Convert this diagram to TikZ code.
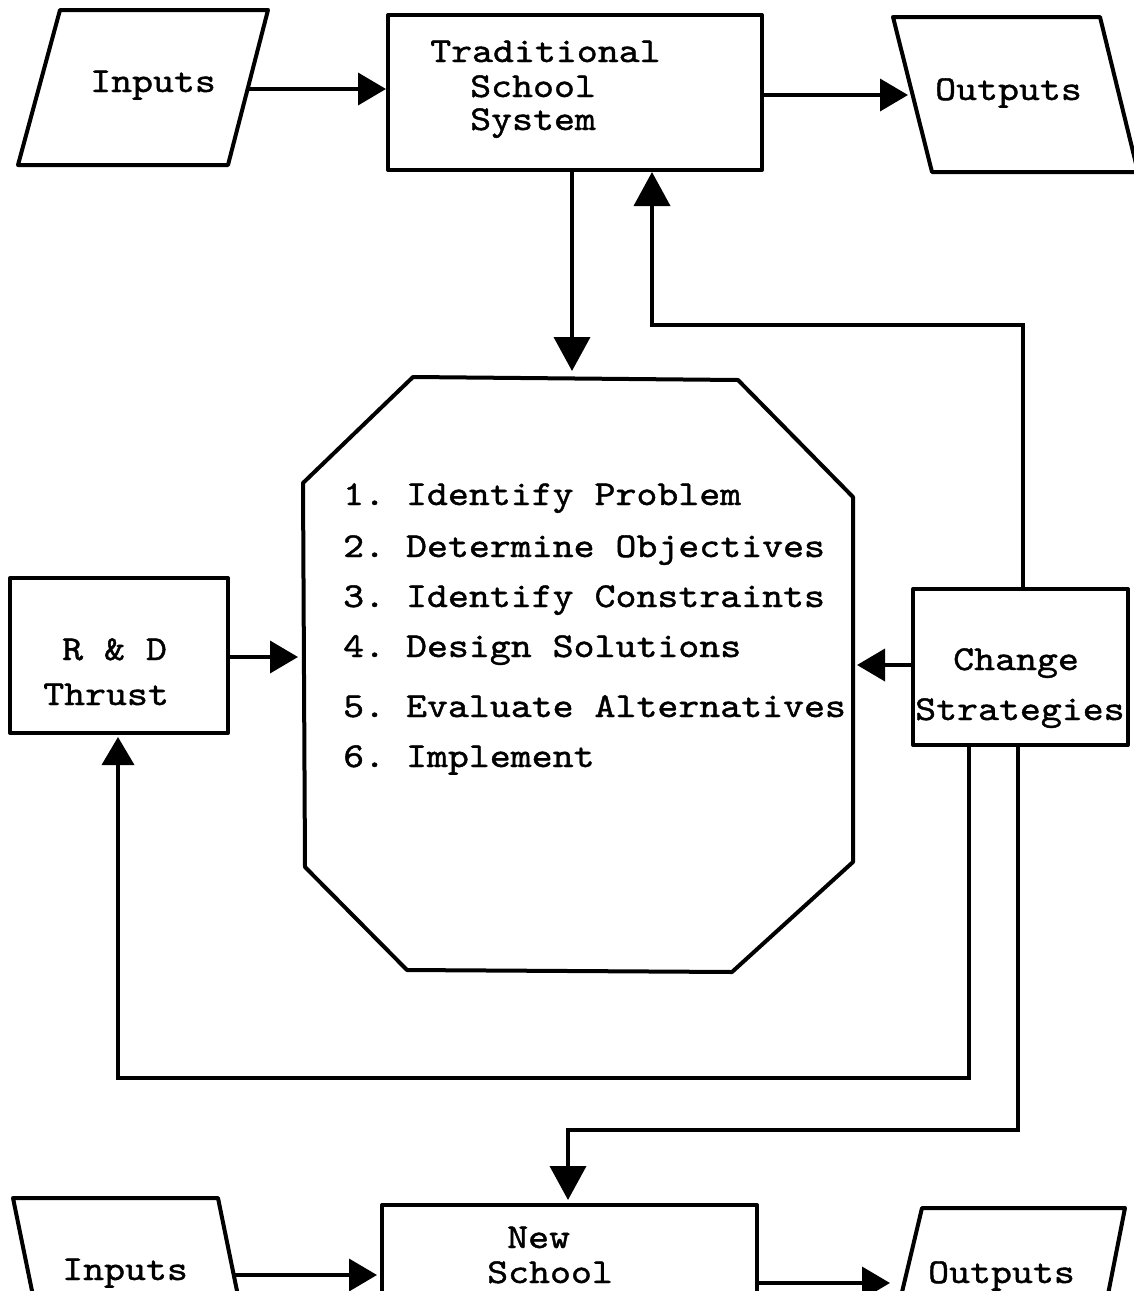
\documentclass[tikz,border=0pt]{standalone}
\usepackage{fontspec}
\usetikzlibrary{arrows.meta}
\newfontfamily\tw{lmmono10-regular.otf}[FakeStretch=1.14,FakeBold=1.2]
\tikzset{
  shp/.style={draw, line width=4pt, line join=round},
  conn/.style={draw, line width=3.8pt},
  arr/.style={conn, -{Triangle[length=28pt,width=32pt]}},
  bigarr/.style={conn, -{Triangle[length=34pt,width=36pt]}},
  txt/.style={font=\tw\fontsize{35}{35}\selectfont\frenchspacing, inner sep=0pt, anchor=base west},
}
\begin{document}
\begin{tikzpicture}[x=1pt,y=-1pt]
\useasboundingbox (0,0) rectangle (1134,1291);
\clip (0,0) rectangle (1134,1291);
% ---------- top Inputs
\coordinate (iA1) at (60,10);
\coordinate (iA2) at (268,10);
\coordinate (iA3) at (228,165);
\coordinate (iA4) at (18,165);
\draw[shp] (iA1) -- (iA2) -- (iA3) -- (iA4) -- cycle;
\node[txt] (inA) at (90,92) {Inputs};
% ---------- Traditional School System
\coordinate (tssNW) at (388,15);
\coordinate (tssSE) at (762,170);
\draw[shp] (tssNW) rectangle (tssSE);
\node[txt] (tss1) at (430,62) {Traditional};
\node[txt] (tss2) at (470,97) {School};
\node[txt] (tss3) at (470,130) {System};
% ---------- top Outputs
\coordinate (oA1) at (893,17);
\coordinate (oA2) at (1100,17);
\coordinate (oA3) at (1138,172);
\coordinate (oA4) at (932,172);
\draw[shp] (oA1) -- (oA2) -- (oA3) -- (oA4) -- cycle;
\node[txt] (outA) at (935,100) {Outputs};
% ---------- octagon
\coordinate (o1) at (413,377);
\coordinate (o2) at (738,380);
\coordinate (o3) at (853,497);
\coordinate (o4) at (853,862);
\coordinate (o5) at (732,972);
\coordinate (o6) at (407,970);
\coordinate (o7) at (305,867);
\coordinate (o8) at (303,483);
\draw[shp] (o1) -- (o2) -- (o3) -- (o4) -- (o5) -- (o6) -- (o7) -- (o8) -- cycle;
\node[txt] (l1) at (343,505) {1. Identify Problem};
\node[txt] (l2) at (343,557) {2. Determine Objectives};
\node[txt] (l3) at (343,607) {3. Identify Constraints};
\node[txt] (l4) at (343,657) {4. Design Solutions};
\node[txt] (l5) at (343,717) {5. Evaluate Alternatives};
\node[txt] (l6) at (343,767) {6. Implement};
% ---------- R & D Thrust
\coordinate (rdNW) at (10,578);
\coordinate (rdSE) at (228,733);
\draw[shp] (rdNW) rectangle (rdSE);
\node[txt] (rd1) at (62,660) {R \& D};
\node[txt] (rd2) at (43,705) {Thrust};
% ---------- Change Strategies
\coordinate (csNW) at (913,589);
\coordinate (csSE) at (1128,745);
\draw[shp] (csNW) rectangle (csSE);
\node[txt] (cs1) at (953,670) {Change};
\node[txt] (cs2) at (915,720) {Strategies};
% ---------- bottom Inputs
\coordinate (iB1) at (13,1198);
\coordinate (iB2) at (218,1198);
\coordinate (iB3) at (245,1330);
\coordinate (iB4) at (40,1330);
\draw[shp] (iB1) -- (iB2) -- (iB3) -- (iB4) -- cycle;
\node[txt] (inB) at (62,1280) {Inputs};
% ---------- New School
\coordinate (nsNW) at (382,1205);
\coordinate (nsSE) at (757,1340);
\draw[shp] (nsNW) rectangle (nsSE);
\node[txt] (ns1) at (507,1248) {New};
\node[txt] (ns2) at (487,1283) {School};
% ---------- bottom Outputs
\coordinate (oB1) at (922,1208);
\coordinate (oB2) at (1125,1208);
\coordinate (oB3) at (1101,1330);
\coordinate (oB4) at (893,1330);
\draw[shp] (oB1) -- (oB2) -- (oB3) -- (oB4) -- cycle;
\node[txt] (outB) at (928,1283) {Outputs};
% ---------- connectors
\coordinate (iAout) at (248,89);
\coordinate (tssIn) at (386,89);
\draw[arr] (iAout) -- (tssIn);
\coordinate (tssOut) at (762,95);
\coordinate (oAin) at (908,95);
\draw[arr] (tssOut) -- (oAin);
\coordinate (tssDown) at (572,170);
\coordinate (octTop) at (572,371);
\draw[bigarr] (tssDown) -- (octTop);
\coordinate (csTop) at (1023,589);
\coordinate (upTurn) at (652,325);
\coordinate (tssUp) at (652,172);
\draw[bigarr] (csTop) |- (upTurn) -- (tssUp);
\coordinate (rdOut) at (228,657);
\coordinate (octL) at (298,657);
\draw[arr] (rdOut) -- (octL);
\coordinate (csL) at (913,665);
\coordinate (octR) at (857,665);
\draw[arr] (csL) -- (octR);
\coordinate (csB1) at (969,745);
\coordinate (rdLoop) at (118,1078);
\coordinate (rdIn) at (118,737);
\draw[arr] (csB1) |- (rdLoop) -- (rdIn);
\coordinate (csB2) at (1018,745);
\coordinate (nsLoop) at (568,1130);
\coordinate (nsIn) at (568,1200);
\draw[bigarr] (csB2) |- (nsLoop) -- (nsIn);
\coordinate (iBout) at (234,1275);
\coordinate (nsInL) at (377,1275);
\draw[arr] (iBout) -- (nsInL);
\coordinate (nsOut) at (757,1283);
\coordinate (oBin) at (890,1283);
\draw[arr] (nsOut) -- (oBin);
\end{tikzpicture}
\end{document}
